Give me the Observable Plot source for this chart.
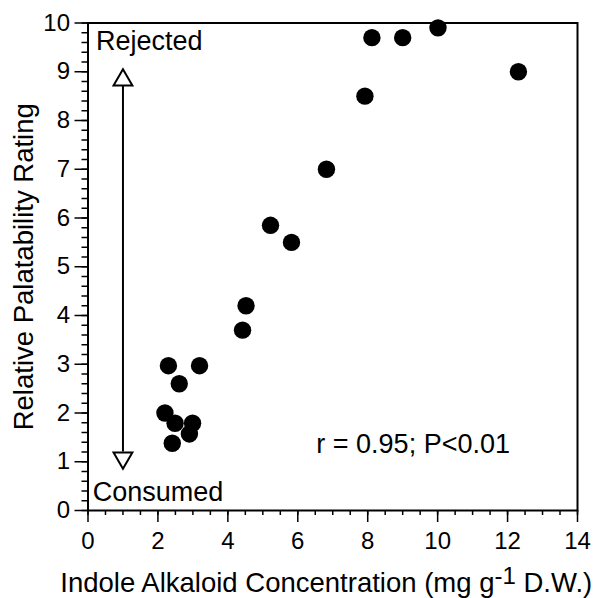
<!DOCTYPE html>
<html>
<head>
<meta charset="utf-8">
<script src="https://cdn.jsdelivr.net/npm/d3@7"></script>
<script src="https://cdn.jsdelivr.net/npm/@observablehq/plot@0.6"></script>
<style>
  html, body { margin: 0; padding: 0; background: #fff; }
  #chart svg { display: block; }
</style>
</head>
<body>
<div id="chart"></div>
<script>
// Data
const concentration = [8.12, 9.0, 10.01, 12.31, 7.92, 6.82, 5.22, 5.82, 4.52, 4.42, 2.30, 3.19, 2.61, 2.20, 2.49, 2.99, 2.90, 2.41];
const rating        = [9.7, 9.7, 9.9, 9.0, 8.5, 7.0, 5.85, 5.5, 4.2, 3.7, 2.97, 2.97, 2.6, 2.0, 1.79, 1.79, 1.57, 1.38];

const xMajorTicks = [0, 2, 4, 6, 8, 10, 12, 14];
const yMajorTicks = [0, 1, 2, 3, 4, 5, 6, 7, 8, 9, 10];
const xMinorTicks = d3.range(0, 14.001, 0.5);
const yMinorTicks = d3.range(0, 10.001, 0.2);

// Annotations
const noteLabels = ["Rejected", "Consumed", "r = 0.95; P<0.01"];
const noteX = [0.23, 0.135, 6.53];
const noteY = [9.62, 0.38, 1.36];

// Double-headed arrow at x = 1
const arrowX = [1];
const arrowLineY1 = [1.2];
const arrowLineY2 = [8.71];
const arrowHeadY = [8.83, 1.08];
const arrowHeadRotate = [0, 180];

const xTitleMain = "Indole Alkaloid Concentration (mg g";
const xTitleSup = "-1";
const xTitleEnd = " D.W.)";
const yTitle = "Relative Palatability Rating";

const points = concentration.map((c, i) => ({x: c, y: rating[i]}));
const notes = noteLabels.map((t, i) => ({t, x: noteX[i], y: noteY[i]}));
const heads = arrowHeadY.map((y, i) => ({x: arrowX[0], y, r: arrowHeadRotate[i]}));

const font = "'Liberation Sans', Arial, Helvetica, sans-serif";

const chart = Plot.plot({
  width: 594,
  height: 598,
  marginLeft: 87.5,
  marginRight: 17,
  marginTop: 22.5,
  marginBottom: 88,
  style: {fontFamily: font, background: "#fff", color: "#000", overflow: "visible"},
  x: {domain: [0, 14]},
  y: {domain: [0, 10]},
  marks: [
    Plot.axisX(xMinorTicks, {tickSize: 5, text: null, strokeWidth: 1.5, label: null}),
    Plot.axisX(xMajorTicks, {tickSize: 12, tickPadding: 9, fontSize: 24, strokeWidth: 1.5, label: null}),
    Plot.axisY(yMinorTicks, {tickSize: 6, text: null, strokeWidth: 1.5, label: null}),
    Plot.axisY(yMajorTicks, {tickSize: 13, tickPadding: 5, fontSize: 24, strokeWidth: 1.5, label: null}),
    Plot.frame({stroke: "#000", strokeWidth: 2}),
    Plot.ruleX(arrowX, {x: d => d, y1: arrowLineY1[0], y2: arrowLineY2[0], stroke: "#000", strokeWidth: 2}),
    Plot.dot(heads, {x: "x", y: "y", rotate: "r", symbol: "triangle", r: 7, fill: "#fff", stroke: "#000", strokeWidth: 2}),
    Plot.text(notes, {x: "x", y: "y", text: "t", textAnchor: "start", fontSize: 27, fill: "#000"}),
    Plot.dot(points, {x: "x", y: "y", r: 8.7, fill: "#000", stroke: "none"}),
    Plot.text([yTitle], {text: d => d, frameAnchor: "left", textAnchor: "middle", lineAnchor: "middle", dx: -64, rotate: -90, fontSize: 27.5, fill: "#000"})
  ]
});

document.getElementById("chart").appendChild(chart);

// X axis title with superscript
const xs = chart.scale("x");
const cx = (xs.range[0] + xs.range[1]) / 2 - 6;
const t = d3.select(chart).append("text")
  .attr("x", cx)
  .attr("y", 591.5)
  .attr("text-anchor", "middle")
  .attr("font-size", 27.5)
  .attr("font-family", font)
  .attr("fill", "#000");
t.append("tspan").text(xTitleMain);
t.append("tspan").attr("dy", -8).attr("font-size", 24).text(xTitleSup);
t.append("tspan").attr("dy", 8).text(xTitleEnd);
</script>
</body>
</html>
